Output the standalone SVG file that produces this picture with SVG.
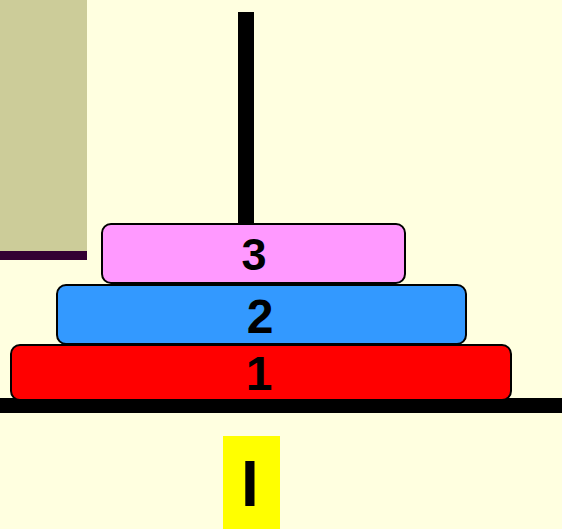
<svg xmlns="http://www.w3.org/2000/svg" width="562" height="529" viewBox="0 0 562 529">
<style>
.disk{stroke:#000;stroke-width:2}
.lbl{font-family:"Liberation Sans",Arial,sans-serif;font-weight:bold;font-size:48px;text-anchor:middle;fill:#000}
</style>
<rect width="562" height="529" fill="#FFFFE0"/>
<rect x="0" y="0" width="87" height="251" fill="#CCCC99"/>
<rect x="0" y="251" width="87" height="9" fill="#330033"/>
<g id="pole"><rect x="238" y="12" width="16" height="214" fill="#000"/></g>
<g id="base"><rect x="0" y="398" width="562" height="15" fill="#000"/></g>
<g id="disk1"><rect class="disk" x="11" y="345" width="500" height="55" rx="9" fill="#FF0000"/><text class="lbl" x="259" y="390">1</text></g>
<g id="disk2"><rect class="disk" x="57" y="285" width="409" height="59" rx="9" fill="#3399FF"/><text class="lbl" x="260" y="333">2</text></g>
<g id="disk3"><rect class="disk" x="102" y="224" width="303" height="59" rx="9" fill="#FF99FF"/><text class="lbl" x="254" y="270" style="font-size:45px">3</text></g>
<g id="label"><rect x="223" y="436" width="57" height="93" fill="#FFFF00"/><text x="250" y="506" font-family="'Liberation Sans',Arial,sans-serif" font-weight="bold" font-size="64" text-anchor="middle" fill="#000">I</text></g>
<g id="connectors"/>
</svg>
